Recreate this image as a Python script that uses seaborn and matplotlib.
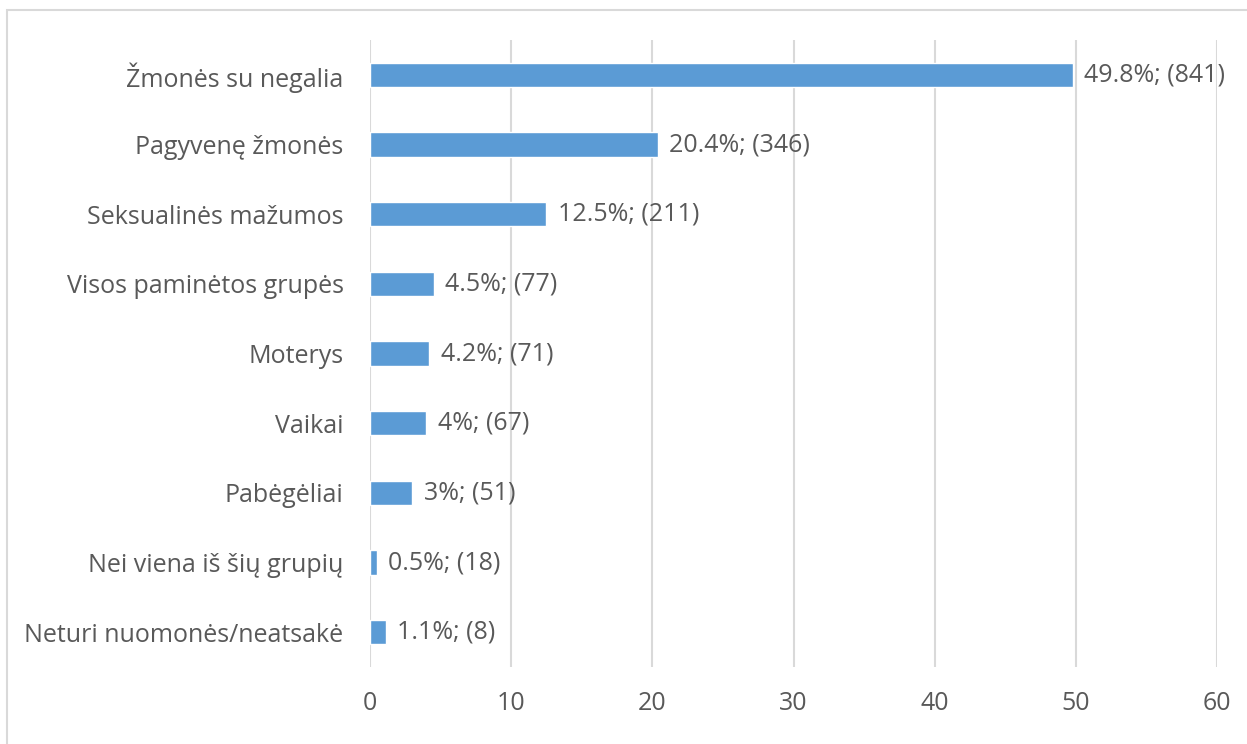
import pandas as pd
import matplotlib.pyplot as plt
import seaborn as sns
from matplotlib.patches import Rectangle

# values
categories = [
    "Žmonės su negalia",
    "Pagyvenę žmonės",
    "Seksualinės mažumos",
    "Visos paminėtos grupės",
    "Moterys",
    "Vaikai",
    "Pabėgėliai",
    "Nei viena iš šių grupių",
    "Neturi nuomonės/neatsakė",
]
percents = [49.8, 20.4, 12.5, 4.5, 4.2, 4, 3, 0.5, 1.1]
counts = [841, 346, 211, 77, 71, 67, 51, 18, 8]

df = pd.DataFrame({"category": categories, "percent": percents, "count": counts})

sns.set_theme(style="white")
plt.rcParams["font.family"] = ["Open Sans", "DejaVu Sans"]

text_color = "#595959"
grid_color = "#D9D9D9"
bar_color = "#5B9BD5"
fsize = 18

fig = plt.figure(figsize=(12.47, 7.44), dpi=100)
ax = fig.add_axes([0.2967, 0.1035, 0.976 - 0.2967, 0.946 - 0.1035])

sns.barplot(data=df, x="percent", y="category", color=bar_color,
            width=0.35, saturation=1, ax=ax)

# labels at the end of each bar
for i, row in df.iterrows():
    ax.text(row["percent"] + 0.8, i, f"{row['percent']:g}%; ({row['count']})",
            va="center", ha="left", fontsize=fsize, color=text_color)

ax.set_xlim(0, 60)
ax.set_ylim(8.5, -0.5)
ax.set_xticks(range(0, 61, 10))
ax.xaxis.grid(True, color=grid_color, linewidth=1.5)
ax.set_axisbelow(True)
ax.set_xlabel("")
ax.set_ylabel("")
for s in ax.spines.values():
    s.set_visible(False)
ax.tick_params(axis="both", length=0, colors=text_color, labelsize=fsize)
ax.tick_params(axis="x", pad=17)
ax.tick_params(axis="y", pad=19)

# light frame around the chart area (cut off on the right and bottom)
fig.patches.append(Rectangle((7 / 1247, -0.1), 1.2, 1.1 - 10 / 744,
                             transform=fig.transFigure, fill=False,
                             edgecolor=grid_color, linewidth=1.5))

fig.savefig("out.png", dpi=100)
